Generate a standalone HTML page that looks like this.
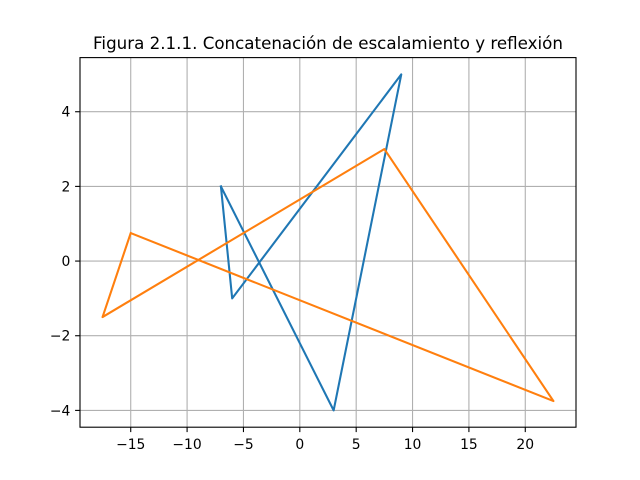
<!DOCTYPE html>
<html><head><meta charset="utf-8"><style>
body{margin:0;background:#fff}
svg{display:block;font-family:"DejaVu Sans","Liberation Sans",sans-serif}
</style></head><body>
<svg id="chart" width="640" height="480"></svg>
<script>
const blueX=[-7,-6,9,3,-7];
const blueY=[2,-1,5,-4,2];
const orangeX=[-15,-17.5,7.5,22.5,-15];
const orangeY=[0.75,-1.5,3,-3.75,0.75];
const xTicks=[-15,-10,-5,0,5,10,15,20];
const xTickLabels=["\u221215","\u221210","\u22125","0","5","10","15","20"];
const yTicks=[-4,-2,0,2,4];
const yTickLabels=["\u22124","\u22122","0","2","4"];
const xMin=-19.5,xMax=24.5,yMin=-4.45,yMax=5.45;
const L=80,R=576,T=57.6,B=427.2;
const sx=v=>L+(v-xMin)/(xMax-xMin)*(R-L);
const sy=v=>B-(v-yMin)/(yMax-yMin)*(B-T);
const svg=document.getElementById('chart');
const NS="http://www.w3.org/2000/svg";
function mk(tag,attrs){const e=document.createElementNS(NS,tag);for(const k in attrs)e.setAttribute(k,attrs[k]);svg.appendChild(e);return e;}
xTicks.forEach((t,i)=>{
 const g=mk('line',{x1:sx(t),x2:sx(t),y1:T,y2:B,stroke:'#b0b0b0','stroke-width':1.1});
 
 
 const tk=mk('line',{x1:sx(t),x2:sx(t),y1:B,y2:B+4.9,stroke:'#000','stroke-width':1.1});
 
 
 const tx=mk('text',{x:sx(t),y:B+22,'text-anchor':'middle','font-size':13.9,fill:'#000'});
 tx.textContent=xTickLabels[i];
 
 
});
yTicks.forEach((t,i)=>{
 const g=mk('line',{x1:L,x2:R,y1:sy(t),y2:sy(t),stroke:'#b0b0b0','stroke-width':1.1});
 
 
 const tk=mk('line',{x1:L-4.9,x2:L,y1:sy(t),y2:sy(t),stroke:'#000','stroke-width':1.1});
 
 
 const tx=mk('text',{x:L-9.7,y:sy(t)+5,'text-anchor':'end','font-size':13.9,fill:'#000'});
 tx.textContent=yTickLabels[i];
 
 
});
function line(xs,ys,color,name){
 const p=mk('polyline',{points:xs.map((x,i)=>sx(x)+','+sy(ys[i])).join(' '),fill:'none',stroke:color,'stroke-width':2.08,'stroke-linejoin':'round','stroke-linecap':'square'});
 
 
}
line(blueX,blueY,'#1f77b4','original-shape-line');
line(orangeX,orangeY,'#ff7f0e','transformed-shape-line');
const fr=mk('rect',{x:L,y:T,width:R-L,height:B-T,fill:'none',stroke:'#000','stroke-width':1.1});


const ti=mk('text',{x:(L+R)/2,y:T-8.5,'text-anchor':'middle','font-size':16.7,fill:'#000'});
ti.textContent='Figura 2.1.1. Concatenación de escalamiento y reflexión';


</script>
</body></html>
